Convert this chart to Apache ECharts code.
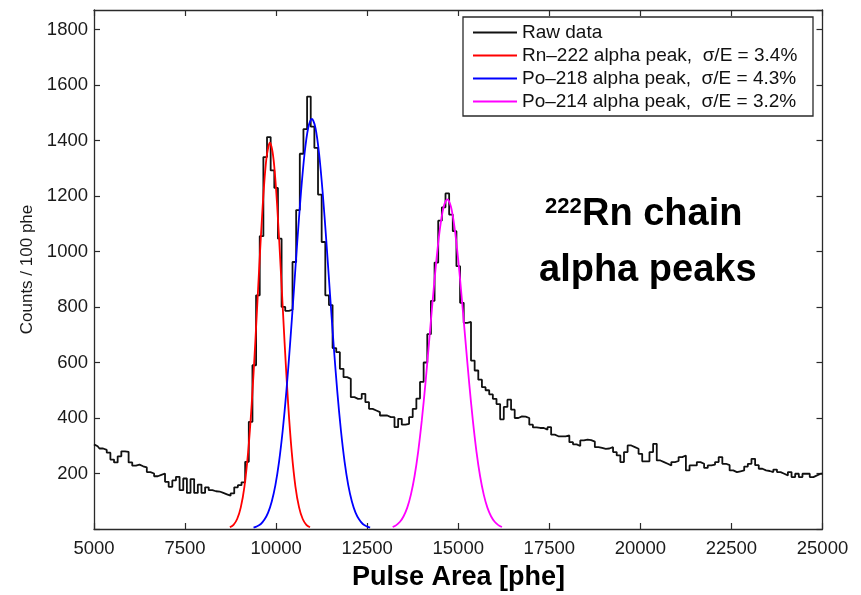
<!DOCTYPE html>
<html><head><meta charset="utf-8">
<script src="https://cdn.jsdelivr.net/npm/echarts@6/dist/echarts.min.js"></script>
<style>html,body{margin:0;padding:0;background:#fff}#c{width:861px;height:595px}</style>
</head><body><div id="c"></div>
<script>
// Histogram: bin centres start at 5000 phe, 100 phe per bin
const binStart = 5000;
const binWidth = 100;
const rawCounts = [
  305,298,290,285,275,250,240,262,280,278,   // 5000-5900
  240,228,232,226,222,205,200,190,195,200,   // 6000-6900
  170,152,175,188,140,182,130,180,130,160,   // 7000-7900
  130,150,140,136,135,130,125,120,128,150,   // 8000-8900
  158,168,242,386,590,842,1055,1340,1412,1292, // 9000-9900
  1229,1046,800,786,790,962,1149,1352,1441,1558, // 10000-10900
  1450,1373,1205,1034,842,807,652,637,577,547, // 11000-11900
  541,475,469,470,487,457,433,427,421,409,   // 12000-12900
  409,403,403,367,397,376,379,403,433,470,   // 13000-13900
  530,600,702,822,960,1111,1159,1209,1133,1073, // 14000-14900
  947,815,743,746,607,571,538,511,500,485,   // 15000-15900
  469,450,395,440,466,430,400,406,405,400,   // 16000-16900
  376,366,364,364,358,367,340,334,334,334,   // 17000-17900
  337,313,305,299,319,322,320,315,295,292,   // 18000-18900
  289,290,295,277,265,241,277,301,295,289,   // 19000-19900
  271,244,244,277,307,247,241,235,229,241,   // 20000-20900
  245,259,265,211,229,229,241,235,220,229,   // 21000-21900
  232,241,259,235,230,211,205,208,211,225,   // 22000-22900
  235,253,230,217,211,209,205,214,205,199,   // 23000-23900
  193,205,187,199,187,199,199,187,193,199,   // 24000-24900
  199                                        // 25000
];
const rn222Fit = [[8730,6],[8830,15],[8930,36],[9030,78],[9130,153],[9230,275],[9330,451],[9430,677],[9530,928],[9630,1162],[9730,1331],[9830,1392],[9930,1331],[10030,1162],[10130,928],[10230,677],[10330,451],[10430,275],[10530,153],[10630,78],[10730,36],[10830,15],[10930,6]];
const po218Fit = [[9380,5],[9480,10],[9580,18],[9680,34],[9780,59],[9880,99],[9980,158],[10080,242],[10180,354],[10280,494],[10380,661],[10480,845],[10580,1034],[10680,1209],[10780,1352],[10880,1445],[10980,1478],[11080,1445],[11180,1352],[11280,1209],[11380,1034],[11480,845],[11580,661],[11680,494],[11780,354],[11880,242],[11980,158],[12080,99],[12180,59],[12280,34],[12380,18],[12480,10],[12580,5]];
const po214Fit = [[13200,7],[13300,14],[13400,26],[13500,46],[13600,77],[13700,124],[13800,190],[13900,279],[14000,392],[14100,526],[14200,675],[14300,827],[14400,969],[14500,1085],[14600,1161],[14700,1188],[14800,1161],[14900,1085],[15000,969],[15100,827],[15200,675],[15300,526],[15400,392],[15500,279],[15600,190],[15700,124],[15800,77],[15900,46],[16000,26],[16100,14],[16200,7]];
const seriesNames = ['Raw data','Rn\u2013222 alpha peak,  \u03c3/E = 3.4%','Po\u2013218 alpha peak,  \u03c3/E = 4.3%','Po\u2013214 alpha peak,  \u03c3/E = 3.2%'];
const seriesColors = ['#111111','#ff0000','#0000ff','#ff00ff'];
const xRange = [5000, 25000], xStep = 2500;
const yRange = [0, 1870], yStep = 200;

const F = "'Liberation Sans', Arial, Helvetica, sans-serif";
const axisCol = '#2a2a2a';
const rawData = rawCounts.map((c, i) => [binStart + i * binWidth, c]);

const chart = echarts.init(document.getElementById('c'), null, {renderer: 'canvas'});
const baseX = {
  type: 'value', min: xRange[0], max: xRange[1], interval: xStep,
  axisLine: {show: true, onZero: false, lineStyle: {color: axisCol, width: 1.3}},
  axisTick: {show: true, inside: true, length: 6, lineStyle: {color: axisCol, width: 1.2}},
  splitLine: {show: false}
};
const baseY = {
  type: 'value', min: yRange[0], max: yRange[1], interval: yStep,
  axisLine: {show: true, onZero: false, lineStyle: {color: axisCol, width: 1.3}},
  axisTick: {show: true, inside: true, length: 6, lineStyle: {color: axisCol, width: 1.2}},
  splitLine: {show: false}
};
chart.setOption({
  animation: false,
  backgroundColor: '#fff',
  grid: {left: 94, right: 38.5, top: 10, bottom: 66, containLabel: false},
  xAxis: [
    Object.assign({}, baseX, {position: 'bottom',
      axisLabel: {show: true, margin: 10, fontSize: 18.5, color: '#1a1a1a', fontFamily: F, formatter: v => String(v)}}),
    Object.assign({}, baseX, {position: 'top', axisLabel: {show: false}})
  ],
  yAxis: [
    Object.assign({}, baseY, {position: 'left',
      name: 'Counts / 100 phe', nameLocation: 'middle', nameGap: 57, nameRotate: 90,
      nameTextStyle: {fontSize: 17, color: '#1a1a1a', fontFamily: F},
      axisLabel: {show: true, margin: 6, fontSize: 18.5, color: '#1a1a1a', fontFamily: F, showMaxLabel: false,
        formatter: v => (v > 0 && v % yStep === 0) ? String(v) : ''}}),
    Object.assign({}, baseY, {position: 'right', axisLabel: {show: false}})
  ],
  legend: {
    show: true, orient: 'vertical', left: 472, top: 23, padding: 0,
    itemWidth: 44, itemHeight: 14, itemGap: 4,
    itemStyle: {opacity: 0, borderWidth: 0},
    textStyle: {fontSize: 19, color: '#111', fontFamily: F},
    data: seriesNames, z: 10
  },
  graphic: [
    {type: 'rect', z: 5, shape: {x: 463, y: 17, width: 350, height: 99},
      style: {fill: '#fff', stroke: axisCol, lineWidth: 1.3}},
    {type: 'text', z: 6, left: 545, top: 196, style: {text: '222', font: "bold 22px " + F, fill: '#000'}},
    {type: 'text', z: 6, left: 582, top: 196, style: {text: 'Rn chain', font: "bold 38px " + F, fill: '#000'}},
    {type: 'text', z: 6, left: 539, top: 252, style: {text: 'alpha peaks', font: "bold 38px " + F, fill: '#000'}},
    {type: 'text', z: 6, left: 352, top: 564, style: {text: 'Pulse Area [phe]', font: "bold 27px " + F, fill: '#000'}}
  ],
  series: [
    {name: seriesNames[0], type: 'line', step: 'middle', data: rawData, symbol: 'none',
      lineStyle: {color: seriesColors[0], width: 1.8}, itemStyle: {color: seriesColors[0]}, z: 2},
    {name: seriesNames[1], type: 'line', data: rn222Fit, symbol: 'none', smooth: 0.3,
      lineStyle: {color: seriesColors[1], width: 1.8}, itemStyle: {color: seriesColors[1]}, z: 3},
    {name: seriesNames[2], type: 'line', data: po218Fit, symbol: 'none', smooth: 0.3,
      lineStyle: {color: seriesColors[2], width: 1.8}, itemStyle: {color: seriesColors[2]}, z: 3},
    {name: seriesNames[3], type: 'line', data: po214Fit, symbol: 'none', smooth: 0.3,
      lineStyle: {color: seriesColors[3], width: 1.8}, itemStyle: {color: seriesColors[3]}, z: 3}
  ]
});
</script></body></html>
